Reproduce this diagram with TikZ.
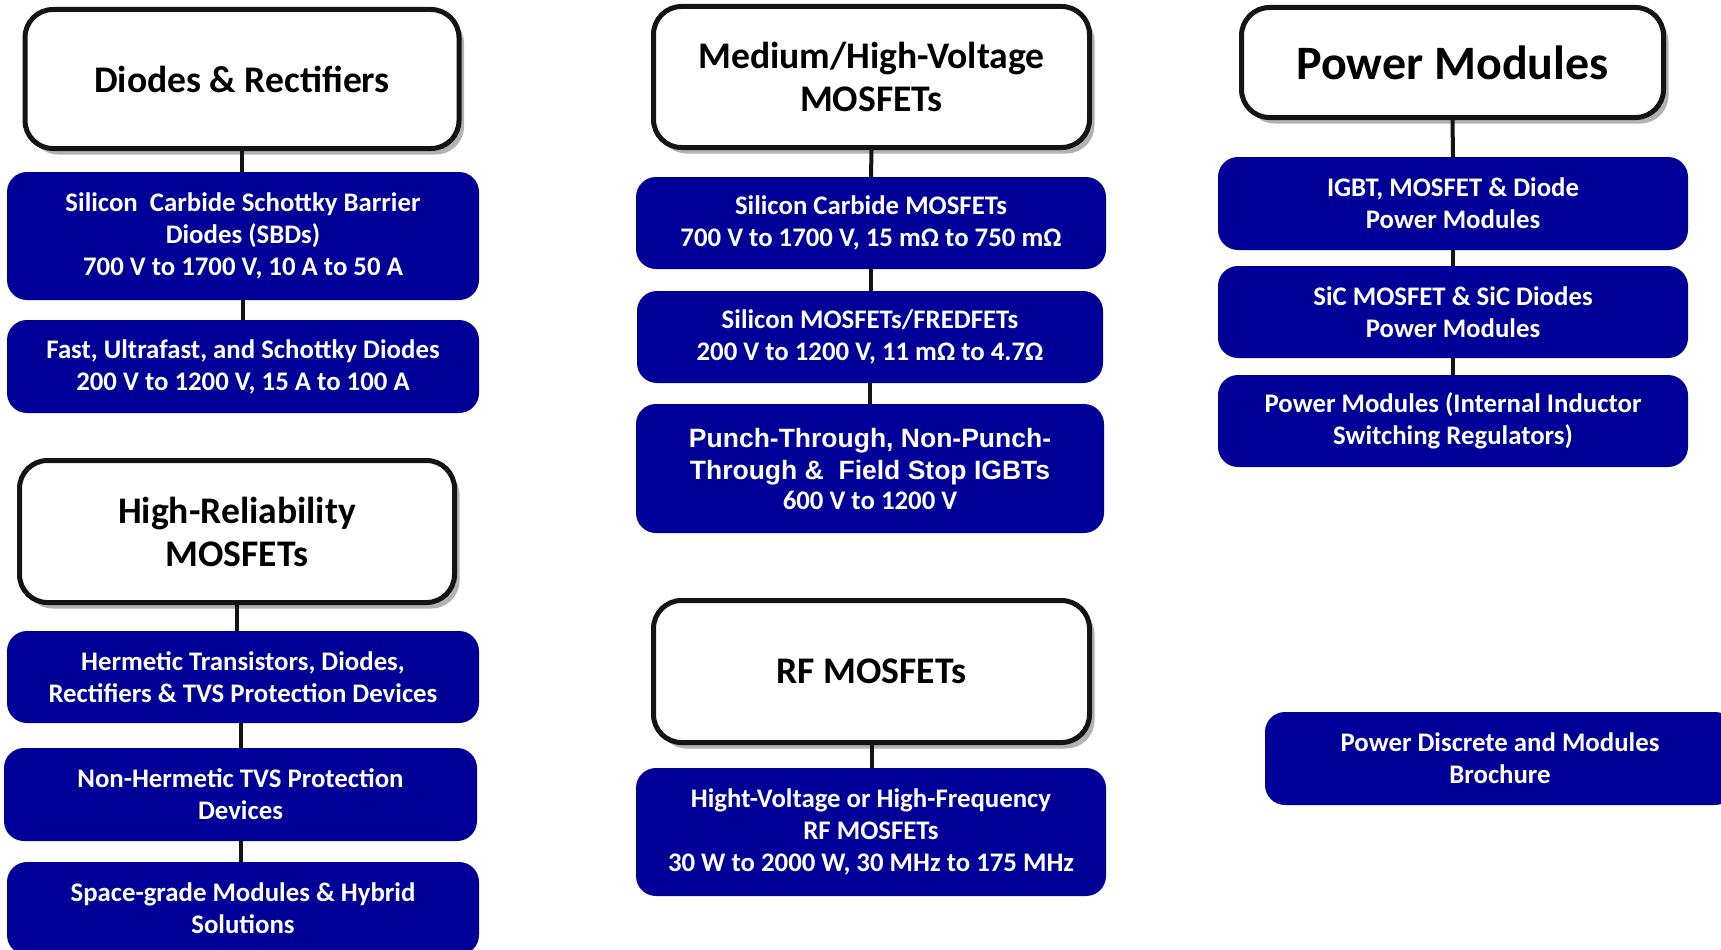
\documentclass[tikz,border=0pt]{standalone}
\usepackage{fontspec}
\setmainfont{Carlito}
\newfontfamily\arialfont{Liberation Sans}
\usetikzlibrary{shadows}

\definecolor{boxblue}{RGB}{0,0,153}
\definecolor{darkline}{RGB}{20,20,20}

\tikzset{
  header/.style={draw=darkline, line width=5pt, fill=white, rounded corners=28pt, inner sep=0pt, align=center,
    font=\bfseries\fontsize{37.6}{43}\selectfont, drop shadow={shadow xshift=5pt, shadow yshift=-6pt, opacity=0.3, fill=black}},
  bluebox/.style={fill=boxblue, rounded corners=20pt, inner sep=0pt, align=center, text=white,
    font=\bfseries\fontsize{26.8}{32}\selectfont},
  link/.style={draw=darkline, line width=4pt}
}

\begin{document}
\begin{tikzpicture}[x=1pt, y=-1pt]

\path[use as bounding box, clip] (0,0) rectangle (1721,950);

%%%%% First column
\node[header, minimum width=434pt, minimum height=139pt] (diodes) at (242,79) {Diodes \& Rectifiers};
\node[bluebox, minimum width=472pt, minimum height=128pt] (sbd) at (243,236) {Silicon\ \ Carbide Schottky Barrier\\Diodes (SBDs)\\700 V to 1700 V, 10 A to 50 A};
\node[bluebox, minimum width=472pt, minimum height=93pt] (fast) at (243,366.5) {Fast, Ultrafast, and Schottky Diodes\\200 V to 1200 V, 15 A to 100 A};

\draw[link] (diodes.south) -- (diodes.south |- sbd.north); \draw[link] (sbd.south) -- (fast.north);

\node[header, minimum width=435pt, minimum height=142pt] (hrel) at (237,531.5) {High-Reliability\\MOSFETs};
\node[bluebox, minimum width=472pt, minimum height=92pt] (herm) at (243,677) {Hermetic Transistors, Diodes,\\Rectifiers \& TVS Protection Devices};
\node[bluebox, minimum width=473pt, minimum height=93pt] (nonherm) at (240.5,794.5) {Non-Hermetic TVS Protection\\Devices};
\node[bluebox, minimum width=472pt, minimum height=93pt] (space) at (243,908.5) {Space-grade Modules \& Hybrid\\Solutions};

\draw[link] (hrel.south) -- (hrel.south |- herm.north); \draw[link] (nonherm.north |- herm.south) -- (nonherm.north);
\draw[link] (nonherm.south) -- (nonherm.south |- space.north);


%%%%% Second column
\node[header, minimum width=436pt, minimum height=141pt] (medhv) at (871.5,77) {Medium/High-Voltage\\MOSFETs};
\node[bluebox, minimum width=470pt, minimum height=92pt] (sicmos) at (871,223) {Silicon Carbide MOSFETs\\700 V to 1700 V, 15 mΩ to 750 mΩ};
\node[bluebox, minimum width=466pt, minimum height=92pt] (simos) at (870,337) {Silicon MOSFETs/FREDFETs\\200 V to 1200 V, 11 mΩ to 4.7Ω};
\node[bluebox, minimum width=468pt, minimum height=129pt] (igbt) at (870,468.5) {{\arialfont\fontsize{26.5}{33}\selectfont Punch-Through, Non-Punch-}\\{\arialfont\fontsize{26.5}{33}\selectfont Through \&\ \ Field Stop IGBTs}\\[-2pt]600 V to 1200 V};

\draw[link] (medhv.south) -- (sicmos.north); \draw[link] (sicmos.south) -- (sicmos.south |- simos.north);
\draw[link] (simos.south) -- (simos.south |- igbt.north);

\node[header, minimum width=436pt, minimum height=142pt] (rf) at (871.5,671.5) {RF MOSFETs};
\node[bluebox, minimum width=470pt, minimum height=128pt] (rfmos) at (871,832) {Hight-Voltage or High-Frequency\\RF MOSFETs\\30 W to 2000 W, 30 MHz to 175 MHz};

\draw[link] (rf.south) -- (rf.south |- rfmos.north);


%%%%% Third column
\node[header, minimum width=422pt, minimum height=110pt, font=\bfseries\fontsize{48}{56}\selectfont] (power) at (1452.5,62.5) {Power Modules};
\node[bluebox, minimum width=470pt, minimum height=93pt] (igbtmod) at (1453,203.5) {IGBT, MOSFET \& Diode\\Power Modules};
\node[bluebox, minimum width=470pt, minimum height=92pt] (sicmod) at (1453,312) {SiC MOSFET \& SiC Diodes\\Power Modules};
\node[bluebox, minimum width=470pt, minimum height=92pt] (pmint) at (1453,421) {Power Modules (Internal Inductor\\Switching Regulators)};

\draw[link] (power.south) -- (igbtmod.north); \draw[link] (igbtmod.south) -- (sicmod.north); \draw[link] (sicmod.south) -- (pmint.north);

\node[bluebox, minimum width=470pt, minimum height=93pt] (broch) at (1500,758.5) {Power Discrete and Modules\\Brochure};

\end{tikzpicture}
\end{document}
